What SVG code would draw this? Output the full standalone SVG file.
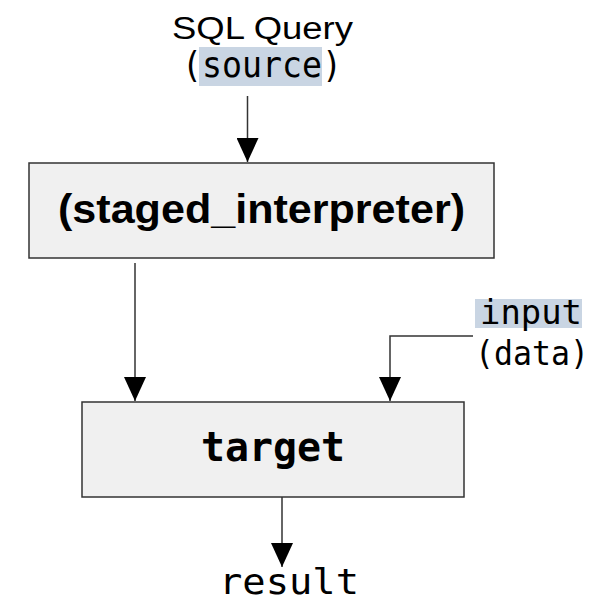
<svg xmlns="http://www.w3.org/2000/svg" width="600" height="603" viewBox="0 0 600 603">
<style>
.box{fill:#f0f0f0;stroke:#333;stroke-width:1.5}
.sans{font-family:"Liberation Sans",Arial,sans-serif;fill:#000}
.mono{font-family:"DejaVu Sans Mono","Liberation Mono",monospace;fill:#000}
.hl{fill:#c9d5e3}
.conn{fill:none;stroke:#333;stroke-width:1.5}
</style>
<defs>
<marker id="ah" markerUnits="userSpaceOnUse" markerWidth="26" markerHeight="22" refX="24" refY="11" orient="auto">
<path d="M0,0 L24,11 L0,22 Z" fill="#000"/>
</marker>
</defs>
<rect width="600" height="603" fill="#fff"/>
<g id="source-label">
<rect class="hl" x="199" y="47" width="123" height="39"/>
<text class="sans" x="172" y="39" font-size="31" textLength="181" lengthAdjust="spacingAndGlyphs">SQL Query</text>
<text class="mono" x="262" y="77" font-size="35" text-anchor="middle" textLength="160" lengthAdjust="spacingAndGlyphs">(source)</text>
</g>
<g id="staged_interpreter">
<rect class="box" x="29" y="163" width="465" height="95"/>
<text class="sans" x="58" y="223" font-size="40" font-weight="bold" textLength="407" lengthAdjust="spacingAndGlyphs">(staged_interpreter)</text>
</g>
<g id="input-label">
<rect class="hl" x="475" y="299" width="107" height="29"/>
<text class="mono" x="582" y="324" font-size="34" text-anchor="end" textLength="102" lengthAdjust="spacingAndGlyphs">input</text>
<text class="mono" x="589" y="365" font-size="34" text-anchor="end" textLength="114" lengthAdjust="spacingAndGlyphs">(data)</text>
</g>
<g id="target">
<rect class="box" x="82" y="402" width="382" height="95"/>
<text class="mono" x="273" y="461" font-size="40" font-weight="bold" text-anchor="middle" textLength="144" lengthAdjust="spacingAndGlyphs">target</text>
</g>
<g id="result-label">
<text class="mono" x="289" y="594" font-size="36" text-anchor="middle" textLength="140" lengthAdjust="spacingAndGlyphs">result</text>
</g>
<g id="connectors">
<path class="conn" d="M247.5,96 V162" marker-end="url(#ah)"/>
<path class="conn" d="M135,263 V401" marker-end="url(#ah)"/>
<path class="conn" d="M473,336 H390 V401" marker-end="url(#ah)"/>
<path class="conn" d="M282,497 V567" marker-end="url(#ah)"/>
</g>
</svg>
